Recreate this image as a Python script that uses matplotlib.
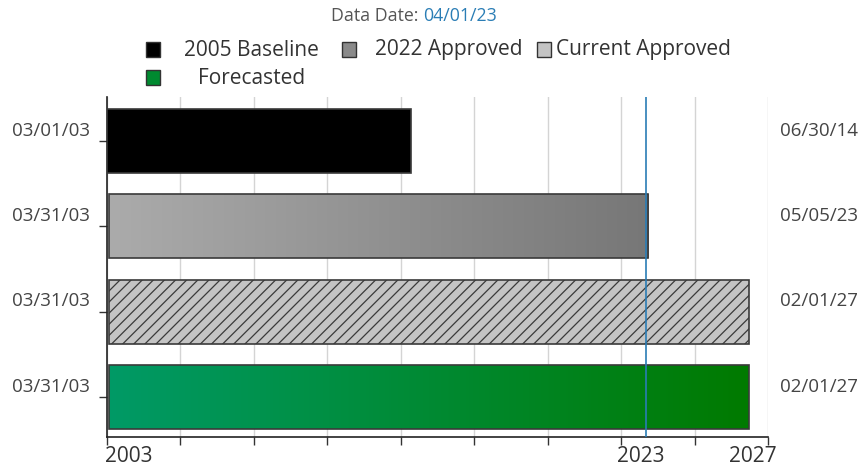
import numpy as np
import pandas as pd
import matplotlib
matplotlib.use('Agg')
import matplotlib.pyplot as plt
from matplotlib.patches import Rectangle
from matplotlib.colors import LinearSegmentedColormap
import matplotlib.transforms as mtransforms

plt.rcParams['font.family'] = ['Open Sans', 'DejaVu Sans']
plt.rcParams['hatch.linewidth'] = 0.9

# data
series = ['2005 Baseline', '2022 Approved', 'Current Approved', 'Forecasted']
start_dates = ['2003-03-01', '2003-03-31', '2003-03-31', '2003-03-31']
end_dates = ['2014-06-30', '2023-05-05', '2027-02-01', '2027-02-01']
start_labels = ['03/01/03', '03/31/03', '03/31/03', '03/31/03']
end_labels = ['06/30/14', '05/05/23', '02/01/27', '02/01/27']
data_date = '2023-04-01'
axis_origin = '2003-03-01'
axis_days = 9000
tick_step = 1000

origin = pd.Timestamp(axis_origin)
starts = np.array([(pd.Timestamp(d) - origin).days for d in start_dates])
ends = np.array([(pd.Timestamp(d) - origin).days for d in end_dates])
dd = (pd.Timestamp(data_date) - origin).days

fig = plt.figure(figsize=(8.64, 4.74), dpi=100)
ax = fig.add_axes([107 / 864, 1 - 437 / 474, 661 / 864, 340 / 474])

ypos = np.arange(len(series))
bars = ax.barh(ypos, ends - starts, left=starts, height=0.75,
               color=['black', '#999999', '#c4c4c4', '#008a40'],
               edgecolor='#3a3a3a', linewidth=1.2, zorder=3)
bars[2].set_hatch('///')

# gradients on bars 2 and 4
grads = {1: ['#ababab', '#777777'], 3: ['#009a66', '#007a00']}
for i, cols in grads.items():
    b = bars[i]
    cmap = LinearSegmentedColormap.from_list('g%d' % i, cols)
    x0, y0 = b.get_x(), b.get_y()
    im = ax.imshow(np.linspace(0, 1, 256).reshape(1, -1), cmap=cmap, aspect='auto',
                   extent=[x0, x0 + b.get_width(), y0 + b.get_height(), y0],
                   zorder=3.5, interpolation='bilinear')
    im.set_clip_path(b)
    b.set_facecolor('none')
    b.set_zorder(4)

ax.set_xlim(0, axis_days)
ax.set_ylim(3.47, -0.516)
ax.set_xticks(np.arange(0, axis_days + 1, tick_step))
ax.set_xticklabels([])
ax.grid(axis='x', color='#d4d4d4', linewidth=1, zorder=0)
ax.set_yticks(ypos)
ax.set_yticklabels([])
ax.tick_params(axis='both', direction='out', length=6, color='#333333', width=1)
for s in ['top', 'right']:
    ax.spines[s].set_visible(False)
for s in ['left', 'bottom']:
    ax.spines[s].set_color('#222222')
    ax.spines[s].set_linewidth(1.2)

ax.axvline(dd, color='#2a7db5', linewidth=1.2, zorder=5)

# date labels on both sides
ytr = mtransforms.blended_transform_factory(fig.transFigure, ax.transData)
for i in range(len(series)):
    fig.text(90 / 864, i - 0.12, start_labels[i], transform=ytr, ha='right', va='center',
             fontsize=13.5, color='#444444')
    fig.text(780 / 864, i - 0.12, end_labels[i], transform=ytr, ha='left', va='center',
             fontsize=13.5, color='#444444')

# year labels under axis
xtr = mtransforms.blended_transform_factory(ax.transData, fig.transFigure)
yl = 1 - 457 / 474
fig.text(-30, yl, '2003', transform=xtr, ha='left', va='center', fontsize=15, color='#333333')
fig.text(dd - 70, yl, '2023', transform=xtr, ha='center', va='center', fontsize=15, color='#333333')
fig.text(ends[3] + 50, yl, '2027', transform=xtr, ha='center', va='center', fontsize=15, color='#333333')

# title
fig.text(423 / 864, 1 - 16 / 474, 'Data Date: ', ha='right', va='center', fontsize=12.8, color='#555555')
fig.text(423 / 864, 1 - 16 / 474, '04/01/23', ha='left', va='center', fontsize=12.8, color='#2a7db5')

# legend drawn by hand
leg = [(153, 50, 'black', 184, series[0]),
       (349, 50, '#8a8a8a', 375, series[1]),
       (544, 50, '#c4c4c4', 556, series[2]),
       (153, 78, '#008a30', 198, series[3])]
for x, y, c, tx, lab in leg:
    fig.patches.append(Rectangle((x / 864 - 7 / 864, 1 - (y + 7) / 474), 14 / 864, 15 / 474,
                                 transform=fig.transFigure, facecolor=c, edgecolor='#333333',
                                 linewidth=1.0))
    fig.text(tx / 864, 1 - y / 474, lab, ha='left', va='center', fontsize=15, color='#333333')

fig.savefig('out.png', dpi=100)
